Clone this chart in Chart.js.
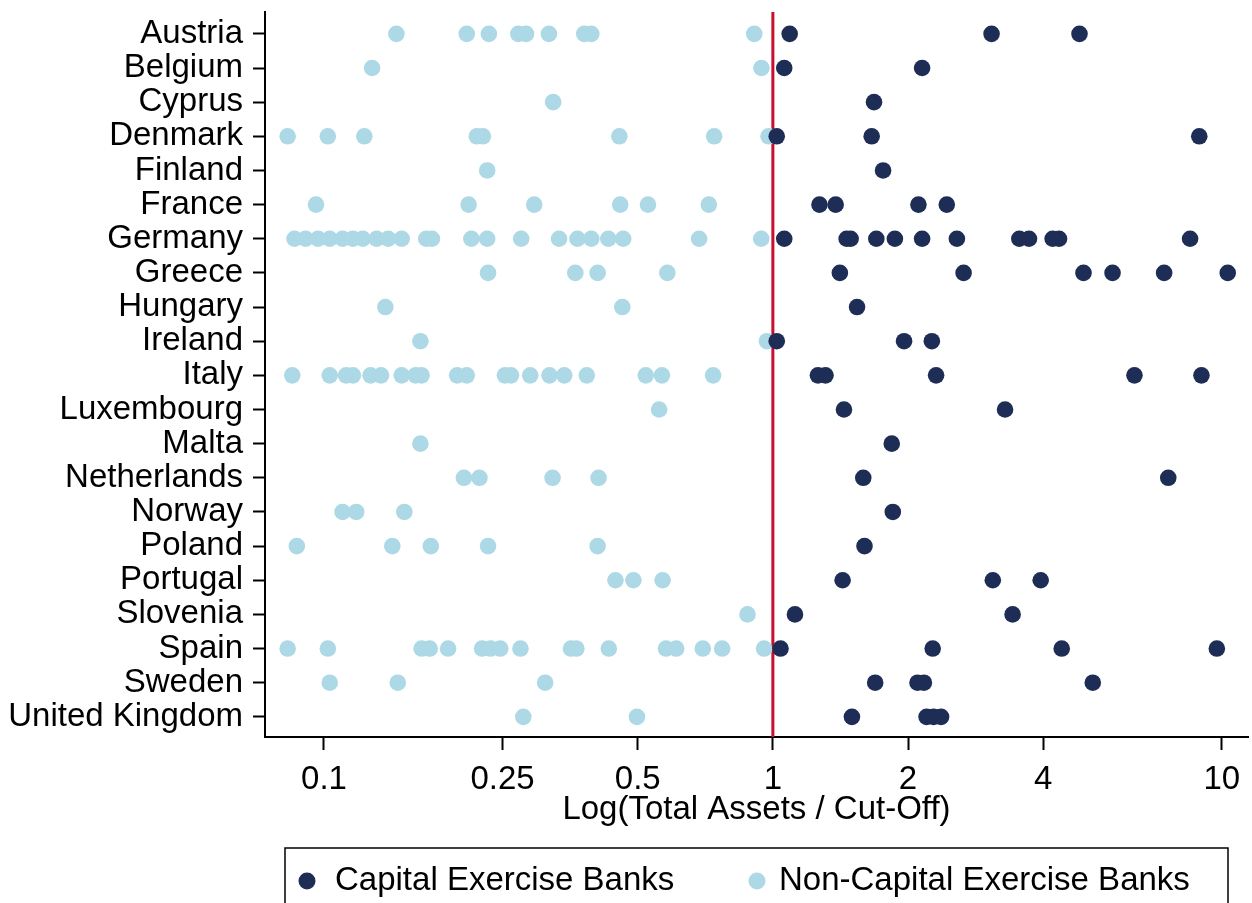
<!DOCTYPE html>
<html>
<head>
<meta charset="utf-8">
<script src="https://cdn.jsdelivr.net/npm/chart.js@4"></script>
<style>
  body { margin: 0; background: #fff; }
  #wrap { width: 1252px; height: 903px; position: relative; }
</style>
</head>
<body>
<div id="wrap"><canvas id="chart"></canvas></div>
<script>
// countries, top to bottom
const countries = ['Austria', 'Belgium', 'Cyprus', 'Denmark', 'Finland', 'France', 'Germany', 'Greece',
  'Hungary', 'Ireland', 'Italy', 'Luxembourg', 'Malta', 'Netherlands', 'Norway', 'Poland',
  'Portugal', 'Slovenia', 'Spain', 'Sweden', 'United Kingdom'];

// total assets / cut-off, one list per country (same order as countries)
const capitalBanks = [
  [1.09, 3.07, 4.82],
  [1.06, 2.15],
  [1.68],
  [1.02, 1.66, 8.91],
  [1.76],
  [1.27, 1.38, 2.11, 2.44],
  [1.06, 1.46, 1.49, 1.70, 1.87, 2.15, 2.57, 3.54, 3.72, 4.20, 4.34, 8.50],
  [1.41, 2.66, 4.92, 5.71, 7.44, 10.31],
  [1.54],
  [1.02, 1.96, 2.26],
  [1.26, 1.31, 2.31, 6.39, 9.01],
  [1.44, 3.29],
  [1.84],
  [1.59, 7.60],
  [1.85],
  [1.60],
  [1.43, 3.09, 3.95],
  [1.12, 3.42],
  [1.04, 2.27, 4.40, 9.75],
  [1.69, 2.10, 2.17, 5.16],
  [1.50, 2.20, 2.28, 2.37]
];

const nonCapitalBanks = [
  [0.145, 0.208, 0.233, 0.271, 0.282, 0.317, 0.380, 0.394, 0.909],
  [0.128, 0.943],
  [0.324],
  [0.083, 0.102, 0.123, 0.219, 0.226, 0.455, 0.740, 0.978],
  [0.231],
  [0.096, 0.210, 0.294, 0.457, 0.527, 0.720],
  [0.086, 0.091, 0.097, 0.103, 0.110, 0.116, 0.122, 0.131, 0.139, 0.149, 0.169, 0.174,
   0.213, 0.231, 0.275, 0.334, 0.367, 0.394, 0.430, 0.464, 0.685, 0.942],
  [0.232, 0.363, 0.407, 0.582],
  [0.137, 0.462],
  [0.164, 0.970],
  [0.085, 0.103, 0.112, 0.116, 0.127, 0.134, 0.149, 0.160, 0.165, 0.198, 0.208, 0.253,
   0.261, 0.288, 0.318, 0.343, 0.385, 0.521, 0.566, 0.736],
  [0.558],
  [0.164],
  [0.205, 0.222, 0.323, 0.409],
  [0.110, 0.118, 0.151],
  [0.087, 0.142, 0.173, 0.232, 0.407],
  [0.446, 0.489, 0.568],
  [0.878],
  [0.083, 0.102, 0.165, 0.172, 0.189, 0.225, 0.235, 0.247, 0.274, 0.355, 0.365, 0.431,
   0.578, 0.609, 0.698, 0.771, 0.956],
  [0.103, 0.146, 0.311],
  [0.278, 0.498]
];

const xTicks = [0.1, 0.25, 0.5, 1, 2, 4, 10];
const xTickLabels = ['0.1', '0.25', '0.5', '1', '2', '4', '10'];
const cutOff = 1;

const DARK = '#1e2d55';
const LIGHT = '#add8e6';
const RED = '#c8102e';
const FONT = "'Liberation Sans', Arial, sans-serif";

const toPoints = (lists) => lists.flatMap((vals, i) => vals.map(v => ({ x: v, y: i })));

Chart.defaults.font.family = FONT;
Chart.defaults.font.size = 33;
Chart.defaults.color = '#000';

// vertical line at the cut-off
const cutOffLine = {
  id: 'cutOffLine',
  beforeDatasetsDraw(chart) {
    const { ctx, chartArea, scales } = chart;
    const x = scales.x.getPixelForValue(cutOff);
    ctx.save();
    ctx.strokeStyle = RED;
    ctx.lineWidth = 3;
    ctx.beginPath();
    ctx.moveTo(x, chartArea.top);
    ctx.lineTo(x, chartArea.bottom);
    ctx.stroke();
    ctx.restore();
  }
};

// boxed legend under the axis
const boxLegend = {
  id: 'boxLegend',
  afterDraw(chart) {
    const { ctx } = chart;
    const left = 285, right = 1228;
    const top = 848, midY = 881;
    ctx.save();
    ctx.strokeStyle = '#000';
    ctx.lineWidth = 1.5;
    ctx.strokeRect(left, top, right - left, 60);
    ctx.font = '33px ' + FONT;
    ctx.textBaseline = 'middle';
    const offsets = [22, 472];
    chart.data.datasets.forEach((ds, i) => {
      const cx = left + offsets[i];
      ctx.beginPath();
      ctx.arc(cx, midY, 8.5, 0, Math.PI * 2);
      ctx.fillStyle = ds.backgroundColor;
      ctx.fill();
      ctx.fillStyle = '#000';
      ctx.fillText(ds.label, cx + (i ? 22 : 28), midY);
    });
    ctx.restore();
  }
};

new Chart(document.getElementById('chart'), {
  type: 'scatter',
  data: {
    datasets: [
      { label: 'Capital Exercise Banks', data: toPoints(capitalBanks),
        backgroundColor: DARK, borderWidth: 0, pointRadius: 8.3 },
      { label: 'Non-Capital Exercise Banks', data: toPoints(nonCapitalBanks),
        backgroundColor: LIGHT, borderWidth: 0, pointRadius: 8.3 }
    ]
  },
  options: {
    responsive: true,
    maintainAspectRatio: false,
    animation: false,
    layout: { autoPadding: false, padding: { top: 12, right: 4, left: 0, bottom: 73 } },
    plugins: { legend: { display: false }, tooltip: { enabled: false } },
    scales: {
      x: {
        type: 'logarithmic',
        bounds: 'data',
        min: 0.0739,
        max: 11.44,
        afterBuildTicks: (scale) => { scale.ticks = xTicks.map(v => ({ value: v })); },
        afterFit: (scale) => {
          scale.height = 93;
          scale.paddingLeft = 0;
          scale.paddingRight = 0;
        },
        ticks: {
          padding: 10,
          maxRotation: 0,
          autoSkip: false,
          callback: (v, i) => xTickLabels[i]
        },
        grid: { drawOnChartArea: false, drawTicks: true, tickLength: 13, tickColor: '#000', tickWidth: 2 },
        border: { display: true, color: '#000', width: 2 },
        title: { display: true, text: 'Log(Total Assets / Cut-Off)', padding: { top: 0, bottom: 0 } }
      },
      y: {
        type: 'linear',
        reverse: true,
        min: -0.64,
        max: 20.59,
        afterBuildTicks: (scale) => { scale.ticks = countries.map((c, i) => ({ value: i })); },
        afterFit: (scale) => {
          scale.width = 265;
          scale.paddingTop = 0;
          scale.paddingBottom = 0;
        },
        ticks: {
          padding: 10,
          autoSkip: false,
          callback: (v) => countries[v]
        },
        grid: { drawOnChartArea: false, drawTicks: true, tickLength: 12, tickColor: '#000', tickWidth: 2 },
        border: { display: true, color: '#000', width: 2 }
      }
    }
  },
  plugins: [cutOffLine, boxLegend]
});
</script>
</body>
</html>
